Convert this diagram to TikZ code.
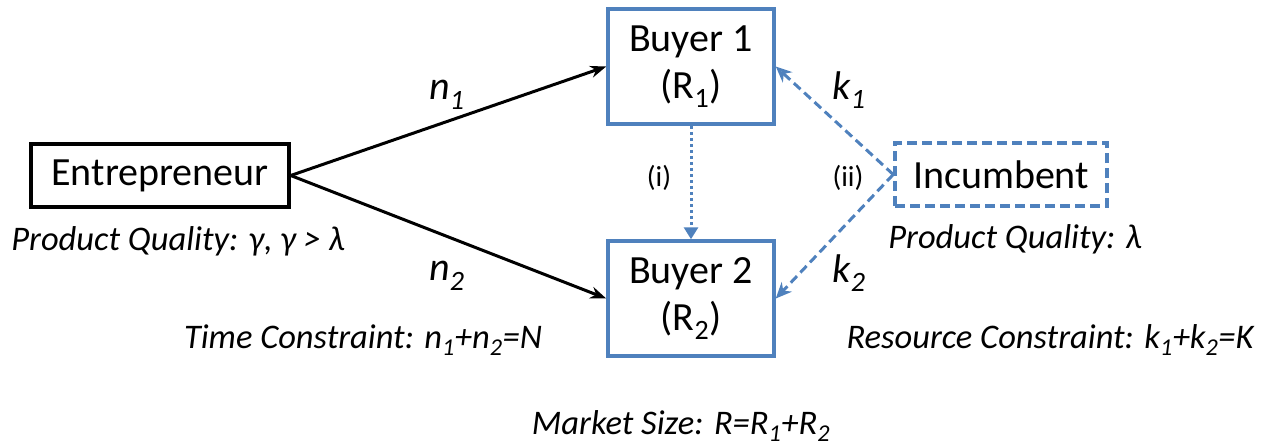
\documentclass[tikz,border=0pt]{standalone}
\usepackage{fontspec}
\setmainfont{Carlito}
\usetikzlibrary{arrows.meta}
\definecolor{officeblue}{RGB}{79,129,189}
\tikzset{
  box/.style={draw, line width=3.5pt, align=center, inner sep=0pt,
              font=\fontsize{40}{47}\selectfont},
  bluebox/.style={box, draw=officeblue},
  lbl/.style={font=\fontsize{34.5}{40}\selectfont\itshape, inner sep=0pt},
  sublbl/.style={font=\fontsize{40}{46}\selectfont\itshape, inner sep=0pt},
  small/.style={font=\fontsize{29}{34}\selectfont, inner sep=0pt},
  blackarrow/.style={line width=3pt, -{Stealth[length=16pt,width=12pt]}},
  bluearrow/.style={line width=3pt, officeblue, dashed, dash pattern=on 9pt off 5pt,
              -{Stealth[length=16pt,width=14pt,open]}},
  dotarrow/.style={line width=3pt, officeblue, dash pattern=on 3pt off 3pt,
              -{Triangle[length=12pt,width=14pt]}},
}
\begin{document}
\begin{tikzpicture}[x=1pt,y=-1pt]
\useasboundingbox (0,0) rectangle (1273,447);
% main boxes
\node[box, minimum width=258, minimum height=63] (ent) at (160,175.5) {Entrepreneur};
\node[bluebox, minimum width=166, minimum height=115] (b1) at (691,66.5)
  {Buyer 1\\(R\textsubscript{1})};
\node[bluebox, minimum width=166, minimum height=115] (b2) at (691,298.5)
  {Buyer 2\\(R\textsubscript{2})};
\node[bluebox, dashed, dash pattern=on 10pt off 5pt, minimum width=212, minimum height=63]
  (inc) at (1001,174.5) {Incumbent};
% connectors
\draw[blackarrow] (ent.east) -- (b1.west);
\draw[blackarrow] (ent.east) -- (b2.west);
\draw[bluearrow] (inc.west) -- (b1.east);
\draw[bluearrow] (inc.west) -- (b2.east);
\draw[dotarrow] (b1.south) -- (b2.north);
% edge labels
\node[sublbl] (ln1) at (447,95) {n\textsubscript{1}};
\node[sublbl] (ln2) at (447,276) {n\textsubscript{2}};
\node[sublbl] (lk1) at (849,90) {k\textsubscript{1}};
\node[sublbl] (lk2) at (849,273) {k\textsubscript{2}};
\node[small] (li) at (659,178) {(i)};
\node[small] (lii) at (848,178) {(ii)};
% annotations
\node[lbl] (qe) at (178,241) {Product Quality: γ, γ > λ};
\node[lbl] (qi) at (1015,239) {Product Quality: λ};
\node[lbl] (tc) at (363,340) {Time Constraint: n\textsubscript{1}+n\textsubscript{2}=\textit{N}};
\node[lbl] (rc) at (1050,340) {Resource Constraint: k\textsubscript{1}+k\textsubscript{2}=\textit{K}};
\node[lbl] (ms) at (681,426) {Market Size: R=R\textsubscript{1}+R\textsubscript{2}};
\end{tikzpicture}
\end{document}
